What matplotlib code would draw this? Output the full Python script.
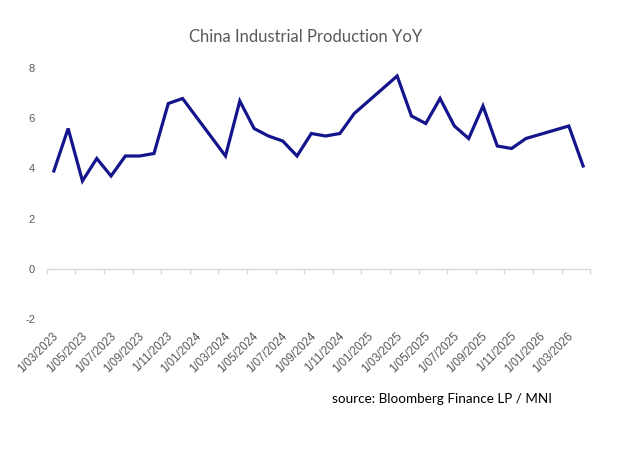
import pandas as pd
import matplotlib.pyplot as plt
from matplotlib.transforms import ScaledTranslation

plt.rcParams["axes.unicode_minus"] = False

# China IP YoY (%), monthly; Jan/Feb not reported separately
months = ["2023-03", "2023-04", "2023-05", "2023-06", "2023-07", "2023-08",
          "2023-09", "2023-10", "2023-11", "2023-12",
          "2024-03", "2024-04", "2024-05", "2024-06", "2024-07", "2024-08",
          "2024-09", "2024-10", "2024-11", "2024-12",
          "2025-03", "2025-04", "2025-05", "2025-06", "2025-07", "2025-08",
          "2025-09", "2025-10", "2025-11", "2025-12",
          "2026-03", "2026-04"]
ip_yoy = [3.9, 5.6, 3.5, 4.4, 3.7, 4.5, 4.5, 4.6, 6.6, 6.8,
          4.5, 6.7, 5.6, 5.3, 5.1, 4.5, 5.4, 5.3, 5.4, 6.2,
          7.7, 6.1, 5.8, 6.8, 5.7, 5.2, 6.5, 4.9, 4.8, 5.2,
          5.7, 4.1]

axis_start = pd.Period("2023-03", "M")
axis_end = pd.Period("2026-05", "M")
label_months = pd.period_range("2023-03", "2026-03", freq="M")[::2]

# month slots: each point sits in the middle of its month
x = [(pd.Period(m, "M") - axis_start).n + 0.5 for m in months]
tick_x = [(p - axis_start).n for p in label_months]
tick_labels = [f"1/{p.month:02d}/{p.year}" for p in label_months]
n_months = (axis_end - axis_start).n

grey = "#595959"

fig = plt.figure(figsize=(6.36, 4.53), dpi=100)
ax = fig.add_axes([0.0734, 0.2969, 0.8547, 0.5519])

ax.plot(x, ip_yoy, color="#14148C", lw=2.3, solid_joinstyle="miter")

ax.set_xlim(0, n_months)
ax.set_ylim(-2, 8)
ax.set_yticks([-2, 0, 2, 4, 6, 8])

for s in ["top", "right", "left"]:
    ax.spines[s].set_visible(False)
ax.spines["bottom"].set_position(("data", 0))
ax.spines["bottom"].set_color("#D9D9D9")
ax.spines["bottom"].set_linewidth(1)

ax.set_xticks(list(range(0, n_months + 1, 2)))
ax.tick_params(axis="x", direction="out", length=3.5, width=1,
               color="#D9D9D9", labelbottom=False)
ax.tick_params(axis="y", length=0, pad=8.4, labelcolor=grey, labelsize=8)
for lbl in ax.get_yticklabels():
    lbl.set_fontfamily("Liberation Sans")

# date labels sit below the plot area, not on the zero line
offset = ScaledTranslation(10 / 100, -16 / 100, fig.dpi_scale_trans)
for tx, tl in zip(tick_x, tick_labels):
    ax.text(tx, 0, tl, transform=ax.get_xaxis_transform() + offset,
            rotation=45, rotation_mode="anchor", ha="right", va="center",
            fontsize=8.3, color=grey, family="Liberation Sans")

fig.text(0.481, 0.919, "China Industrial Production YoY", ha="center",
         va="center", fontsize=12, color=grey, family="Lato")
fig.text(0.5215, 0.1186, "source: Bloomberg Finance LP / MNI", ha="left",
         va="center", fontsize=9.7, color="black", family="Lato")

plt.savefig("out.png", dpi=100)
